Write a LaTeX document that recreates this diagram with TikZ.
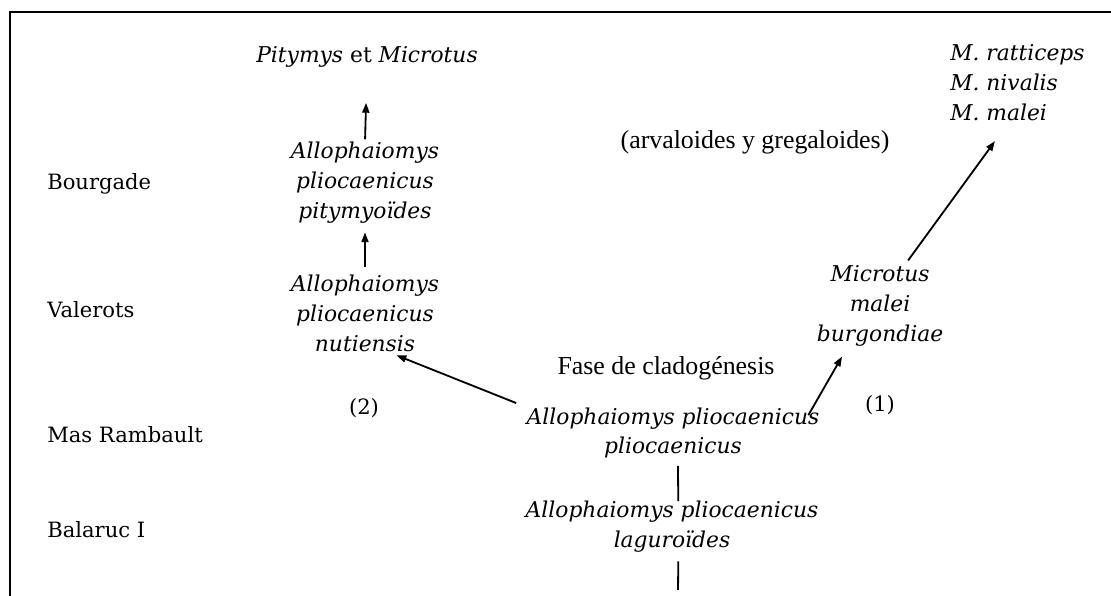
\documentclass[tikz,border=0pt]{standalone}
\usepackage{fontspec}
\setmainfont{DejaVu Serif}
\newfontfamily\notefont{Liberation Serif}
\usetikzlibrary{arrows.meta}

\begin{document}
\begin{tikzpicture}[x=0.025cm, y=-0.025cm,
  taxon/.style={font=\fontsize{15.5}{21.3}\selectfont\itshape, align=center, inner sep=0pt},
  site/.style={font=\fontsize{15}{20}\selectfont, anchor=base west, inner sep=0pt},
  note/.style={font=\notefont\fontsize{18.4}{22}\selectfont, inner sep=0pt},
  arr/.style={-{Triangle[length=7pt,width=5pt]}, line width=1.3pt},
  lnk/.style={line width=1.3pt},
]
  \useasboundingbox (0,0) rectangle (1111,596);
  \draw[line width=1.3pt] (10,596) -- (10,12) -- (1111,12);

  % localities
  \node[site] (bou) at (47,190) {Bourgade};
  \node[site] (val) at (47,318) {Valerots};
  \node[site] (mas) at (47,442) {Mas Rambault};
  \node[site] (bal) at (47,537) {Balaruc I};

  % left lineage (2)
  \node[taxon] (top) at (367,57) {Pitymys \upshape et \itshape Microtus};
  \node[taxon] (pit) at (365,183) {Allophaiomys\\pliocaenicus\\pitymyoïdes};
  \node[taxon] (nut) at (365,313) {Allophaiomys\\pliocaenicus\\nutiensis};
  \node[site, anchor=center] (two) at (364,408) {(2)};

  % stem
  \node[taxon] (pp) at (673,433) {Allophaiomys pliocaenicus\\pliocaenicus};
  \node[taxon] (lag) at (672,527) {Allophaiomys pliocaenicus\\laguroïdes};
  \coordinate (base) at (678,590);

  % right lineage (1)
  \node[taxon] (mal) at (880,306) {Microtus\\malei\\burgondiae};
  \node[taxon, align=left, anchor=west] (rat) at (950,83) {M. ratticeps\\M. nivalis\\M. malei};
  \node[site, anchor=center] (one) at (880,405) {(1)};

  \node[note] (arv) at (755,142) {(arvaloides y gregaloides)};
  \node[note] (fase) at (666,368) {Fase de cladogénesis};

  \draw[arr, shorten <=2pt, shorten >=25pt] (pit.north) -- (top.south);
  \draw[arr, shorten <=5pt, shorten >=6pt] (nut.north) -- (pit.south);
  \draw[arr, shorten <=8pt, shorten >=7pt] (pp.170) -- (nut.-60);
  \draw[arr] ([xshift=-8pt,yshift=-5.7pt]pp.north east) -- ([xshift=-27pt,yshift=-7pt]mal.south);
  \draw[arr] ([xshift=20pt,yshift=3.5pt]mal.north) -- ([xshift=32pt,yshift=-14pt]rat.south west);
  \draw[lnk] ([xshift=3.5pt,yshift=-5pt]pp.south) -- ([xshift=4.5pt]lag.north);
  \draw[lnk] ([xshift=4.5pt,yshift=-6pt]lag.south) -- (base);
\end{tikzpicture}
\end{document}
